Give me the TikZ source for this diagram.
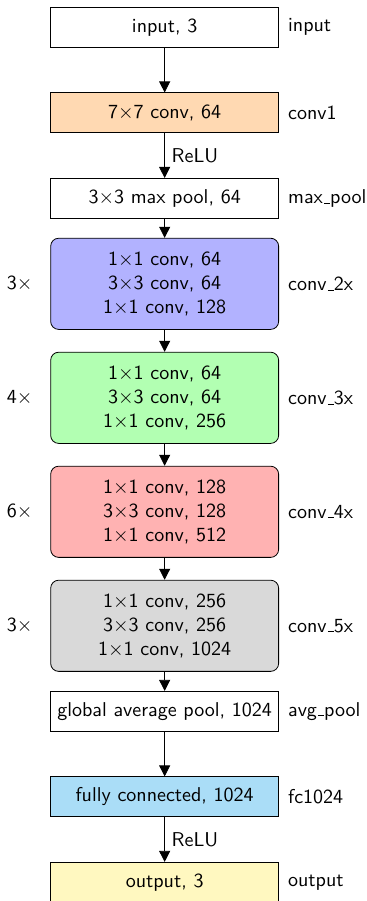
\documentclass[tikz,border=0pt]{standalone}
\usetikzlibrary{arrows.meta}
\definecolor{fcblue}{RGB}{170,221,247}
\definecolor{outyellow}{RGB}{255,248,192}
\newcommand\usc{\leavevmode\kern.06em\vbox{\hrule width.3em}}
\tikzset{
  every node/.style={font=\sffamily},
  layer/.style={draw, minimum width=4cm, minimum height=0.7cm, inner sep=2pt, align=center},
  block/.style={draw, rounded corners=4pt, minimum width=4cm, minimum height=1.6cm, inner sep=2pt, align=center},
  conn/.style={-{Triangle[length=5.5pt,width=5.5pt]}},
  rlabel/.style={anchor=west},
  llabel/.style={anchor=east}
}
\begin{document}
\begin{tikzpicture}
\useasboundingbox (-82.2pt,13.65pt) rectangle (100.8pt,-436.15pt);
\node[layer] (in) at (0,0) {input, 3};
\node[layer, fill=orange!30] (c1) at (0,-1.5) {7$\times$7 conv, 64};
\node[layer] (mp) at (0,-3) {3$\times$3 max pool, 64};
\node[block, fill=blue!30] (c2) at (0,-4.5) {1$\times$1 conv, 64\\3$\times$3 conv, 64\\1$\times$1 conv, 128};
\node[block, fill=green!30] (c3) at (0,-6.5) {1$\times$1 conv, 64\\3$\times$3 conv, 64\\1$\times$1 conv, 256};
\node[block, fill=red!30] (c4) at (0,-8.5) {1$\times$1 conv, 128\\3$\times$3 conv, 128\\1$\times$1 conv, 512};
\node[block, fill=gray!30] (c5) at (0,-10.5) {1$\times$1 conv, 256\\3$\times$3 conv, 256\\1$\times$1 conv, 1024};
\node[layer] (ap) at (0,-12) {global average pool, 1024};
\node[layer, fill=fcblue] (fc) at (0,-13.5) {fully connected, 1024};
\node[layer, fill=outyellow] (out) at (0,-15) {output, 3};

\node[rlabel] (lin) at ([xshift=1pt]in.east) {input};
\node[rlabel] (lc1) at ([xshift=1pt]c1.east) {conv1};
\node[rlabel] (lmp) at ([xshift=1pt]mp.east) {max\usc pool};
\node[rlabel] (lc2) at ([xshift=1pt]c2.east) {conv\usc 2x};
\node[rlabel] (lc3) at ([xshift=1pt]c3.east) {conv\usc 3x};
\node[rlabel] (lc4) at ([xshift=1pt]c4.east) {conv\usc 4x};
\node[rlabel] (lc5) at ([xshift=1pt]c5.east) {conv\usc 5x};
\node[rlabel] (lap) at ([xshift=1pt]ap.east) {avg\usc pool};
\node[rlabel] (lfc) at ([xshift=1pt]fc.east) {fc1024};
\node[rlabel] (lout) at ([xshift=1pt]out.east) {output};

\node[llabel] (n2) at ([xshift=-5.4pt]c2.west) {3$\times$};
\node[llabel] (n3) at ([xshift=-5.4pt]c3.west) {4$\times$};
\node[llabel] (n4) at ([xshift=-5.4pt]c4.west) {6$\times$};
\node[llabel] (n5) at ([xshift=-5.4pt]c5.west) {3$\times$};

\draw[conn] (in) -- (c1);
\draw[conn] (c1) -- node[right] {ReLU} (mp);
\draw[conn] (mp) -- (c2);
\draw[conn] (c2) -- (c3);
\draw[conn] (c3) -- (c4);
\draw[conn] (c4) -- (c5);
\draw[conn] (c5) -- (ap);
\draw[conn] (ap) -- (fc);
\draw[conn] (fc) -- node[right] {ReLU} (out);
\end{tikzpicture}
\end{document}
